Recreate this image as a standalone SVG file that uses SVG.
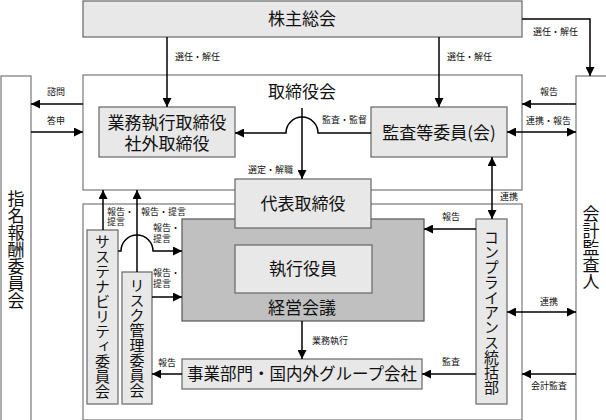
<svg xmlns="http://www.w3.org/2000/svg" width="606" height="420" viewBox="0 0 606 420">
<style>
.box{fill:#e8e8e8;stroke:#666;stroke-width:1.2}
.frame{fill:#fff;stroke:#777;stroke-width:1.2}
.dark{fill:#c0c0c0;stroke:#555;stroke-width:1.2}
.t{font-family:"Noto Sans CJK JP","Noto Sans CJK SC",sans-serif;font-size:17px;fill:#111;text-anchor:middle}
.v{font-family:"Noto Sans CJK JP","Noto Sans CJK SC",sans-serif;font-size:15px;fill:#111;text-anchor:middle;writing-mode:vertical-rl}
.vl{font-size:17px}
.lb{font-family:"Noto Sans CJK JP","Noto Sans CJK SC",sans-serif;font-size:9px;fill:#111}
.c{fill:none;stroke:#000;stroke-width:1.5}
</style>
<defs>
<marker id="ah" markerUnits="userSpaceOnUse" markerWidth="9" markerHeight="9" viewBox="0 0 9 9" refX="9" refY="4.5" orient="auto-start-reverse">
<path d="M0,0 L9,4.5 L0,9 z" fill="#000"/>
</marker>
</defs>
<rect width="606" height="420" fill="#fff"/>

<g id="shareholders">
<rect class="box" x="83" y="1" width="439" height="36"/>
<text class="t" x="302" y="25">株主総会</text>
</g>

<g id="board">
<rect class="frame" x="83" y="75" width="439" height="115"/>
<text class="t" x="302" y="98">取締役会</text>
</g>

<g id="executive-frame">
<rect class="frame" x="83" y="204" width="439" height="216"/>
</g>

<g id="nomination">
<rect class="frame" x="1" y="76" width="30" height="345"/>
<text class="v vl" x="16" y="250">指名報酬委員会</text>
</g>

<g id="auditor">
<rect class="frame" x="576" y="76" width="40" height="345"/>
<text class="v vl" x="591" y="248">会計監査人</text>
</g>

<g id="directors">
<rect class="box" x="99" y="107" width="136" height="50"/>
<text class="t" x="167" y="129">業務執行取締役</text>
<text class="t" x="167" y="150">社外取締役</text>
</g>

<g id="audit-committee">
<rect class="box" x="371" y="107" width="136" height="50"/>
<text class="t" x="439" y="139">監査等委員(会)</text>
</g>

<g id="management-meeting">
<rect class="dark" x="182" y="219" width="242" height="102"/>
<text class="t" x="302" y="314">経営会議</text>
</g>

<g id="representative">
<rect class="box" x="235" y="179" width="136" height="49"/>
<text class="t" x="303" y="210">代表取締役</text>
</g>

<g id="officers">
<rect class="box" x="235" y="245" width="137" height="48"/>
<text class="t" x="303" y="275">執行役員</text>
</g>

<g id="business">
<rect class="box" x="182" y="359" width="240" height="30"/>
<text class="t" x="302" y="380" style="font-size:16.5px">事業部門・国内外グループ会社</text>
</g>

<g id="sustainability">
<rect class="box" x="87" y="230" width="31" height="174"/>
<text class="v" x="102.5" y="316">サステナビリティ委員会</text>
</g>

<g id="risk">
<rect class="box" x="122" y="272" width="30" height="132"/>
<text class="v" x="137" y="338">リスク管理委員会</text>
</g>

<g id="compliance">
<rect class="box" x="476" y="219" width="31" height="185"/>
<text class="v" x="491.5" y="312">コンプライアンス統括部</text>
</g>

<g id="connectors">
<path class="c" d="M167,37 V107" marker-end="url(#ah)"/>
<path class="c" d="M439,37 V107" marker-end="url(#ah)"/>
<path class="c" d="M522,19 H590 V76" marker-end="url(#ah)"/>
<path class="c" d="M83,104 H31" marker-end="url(#ah)"/>
<path class="c" d="M31,132 H83" marker-end="url(#ah)"/>
<path class="c" d="M576,104 H522" marker-end="url(#ah)"/>
<path class="c" d="M507,132 H576" marker-start="url(#ah)" marker-end="url(#ah)"/>
<path class="c" d="M371,133 H318 A16,16 0 0 0 286,133 H235" marker-end="url(#ah)"/>
<path class="c" d="M302,108 V179" marker-end="url(#ah)"/>
<path class="c" d="M103,230 V190" marker-end="url(#ah)"/>
<path class="c" d="M137,272 V190" marker-end="url(#ah)"/>
<path class="c" d="M118,251 H121 A16,16 0 0 1 153,251 H182" marker-end="url(#ah)"/>
<path class="c" d="M152,297 H182" marker-end="url(#ah)"/>
<path class="c" d="M302,321 V359" marker-end="url(#ah)"/>
<path class="c" d="M182,374 H152" marker-end="url(#ah)"/>
<path class="c" d="M476,229 H424" marker-end="url(#ah)"/>
<path class="c" d="M476,374 H422" marker-end="url(#ah)"/>
<path class="c" d="M492,157 V219" marker-start="url(#ah)" marker-end="url(#ah)"/>
<path class="c" d="M507,312 H576" marker-start="url(#ah)" marker-end="url(#ah)"/>
<path class="c" d="M576,374 H522" marker-end="url(#ah)"/>

<text class="lb" x="175" y="60">選任・解任</text>
<text class="lb" x="447" y="60">選任・解任</text>
<text class="lb" x="533" y="35">選任・解任</text>
<text class="lb" x="47" y="95">諮問</text>
<text class="lb" x="47" y="124">答申</text>
<text class="lb" x="540" y="95">報告</text>
<text class="lb" x="526" y="124">連携・報告</text>
<text class="lb" x="322" y="123">監査・監督</text>
<text class="lb" x="248" y="173">選定・解職</text>
<text class="lb" x="500" y="200">連携</text>
<text class="lb" x="107" y="215">報告・</text>
<text class="lb" x="107" y="225">提言</text>
<text class="lb" x="141" y="215">報告・提言</text>
<text class="lb" x="153" y="231">報告・</text>
<text class="lb" x="153" y="242">提言</text>
<text class="lb" x="153" y="276">報告・</text>
<text class="lb" x="153" y="287">提言</text>
<text class="lb" x="158" y="366">報告</text>
<text class="lb" x="312" y="344">業務執行</text>
<text class="lb" x="442" y="220">報告</text>
<text class="lb" x="442" y="365">監査</text>
<text class="lb" x="540" y="305">連携</text>
<text class="lb" x="531" y="389">会計監査</text>
</g>
</svg>
